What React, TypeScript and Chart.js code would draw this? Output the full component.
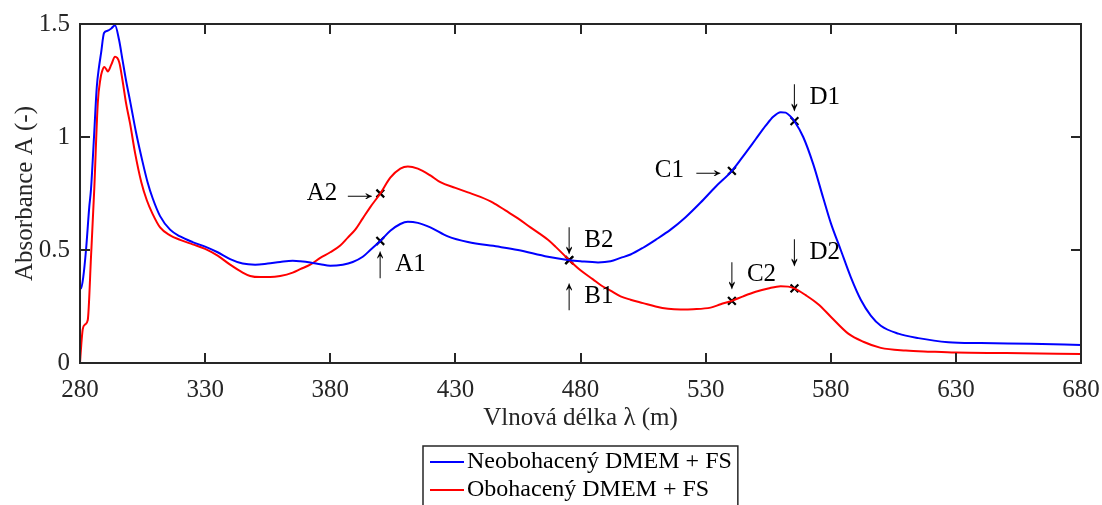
import React, { useEffect, useRef } from "react";
import { Chart, registerables } from "chart.js";

Chart.register(...registerables);

// ---------- data ----------
const seriesLabels = ["Neobohacený DMEM + FS", "Obohacený DMEM + FS"];

const blueWavelengths = [
  280, 280.4, 281.3, 282.4, 283.7, 284.4, 285.5, 286.7, 287.6, 288.4, 289.6, 291, 292.5, 294, 295.6, 297,
  298.4, 300, 302.4, 305, 307, 309, 312, 316, 320, 325, 330, 335, 340, 345, 350, 355, 360, 365, 368, 372,
  376, 380, 385, 389, 393, 396, 400, 404, 408, 411, 415, 420, 427, 435, 447, 455, 467, 475.5, 480, 487,
  492, 496, 500, 505, 510, 516, 522, 528, 534, 540.5, 546, 550, 554, 557, 560, 562, 564, 565.5, 569, 573,
  577, 580, 584, 588, 592, 596, 600, 607, 615, 627, 640, 660, 680,
];
const blueAbsorbance = [
  0.33, 0.33, 0.38, 0.5, 0.69, 0.77, 0.98, 1.22, 1.31, 1.37, 1.46, 1.47, 1.48, 1.495, 1.43, 1.34,
  1.25, 1.16, 1.02, 0.89, 0.8, 0.73, 0.65, 0.59, 0.56, 0.535, 0.515, 0.49, 0.46, 0.44, 0.435, 0.44, 0.447, 0.452, 0.45, 0.445,
  0.437, 0.43, 0.435, 0.447, 0.47, 0.5, 0.54, 0.585, 0.615, 0.625, 0.62, 0.6, 0.56, 0.535, 0.515, 0.5, 0.47, 0.455, 0.45, 0.445,
  0.45, 0.465, 0.48, 0.51, 0.545, 0.59, 0.645, 0.71, 0.78, 0.85, 0.93, 0.99, 1.05, 1.09, 1.11, 1.108, 1.09, 1.07, 1.0, 0.88,
  0.73, 0.62, 0.5, 0.38, 0.28, 0.21, 0.165, 0.13, 0.11, 0.092, 0.088, 0.085, 0.08,
];

const redWavelengths = [
  280, 280.5, 281.1, 282, 283.1, 284.4, 285.7, 287.1, 288.2, 288.8, 289.7, 290.5, 291.1, 292.5, 294, 295.7,
  297, 298.4, 300, 302, 304.5, 306.7, 309, 312, 316, 320, 325, 330, 335, 340, 345, 348, 352, 356, 360, 365,
  368, 372, 376, 380, 384, 387, 390, 393, 396, 400, 404, 408, 411, 415, 420, 424, 430, 435, 440, 445, 450,
  455, 460, 467, 470, 475.5, 480, 485, 488, 492, 496, 500, 505, 510, 515, 520, 525, 532, 536, 540.5, 545,
  550, 555, 560, 563, 565.5, 570, 575, 580, 587, 593, 600, 610, 620, 630, 650, 680,
];
const redAbsorbance = [
  0.0, 0.08, 0.15, 0.17, 0.19, 0.47, 0.77, 1.15, 1.26, 1.29, 1.31, 1.3, 1.29, 1.32, 1.355, 1.33,
  1.25, 1.15, 1.06, 0.93, 0.8, 0.72, 0.66, 0.6, 0.565, 0.545, 0.525, 0.505, 0.475, 0.435, 0.4, 0.385, 0.38, 0.38, 0.385, 0.4,
  0.415, 0.435, 0.465, 0.49, 0.52, 0.555, 0.59, 0.64, 0.69, 0.75, 0.82, 0.86, 0.87, 0.86, 0.83, 0.8, 0.775, 0.755, 0.735, 0.71, 0.675,
  0.64, 0.6, 0.545, 0.515, 0.455, 0.41, 0.37, 0.345, 0.32, 0.295, 0.28, 0.265, 0.25, 0.24, 0.237, 0.238, 0.245, 0.26, 0.275, 0.295,
  0.315, 0.33, 0.34, 0.338, 0.33, 0.3, 0.26, 0.205, 0.13, 0.094, 0.067, 0.055, 0.05, 0.046, 0.044, 0.04,
];

const markerLabels = ["A1", "A2", "B1", "B2", "C1", "C2", "D1", "D2"];
const markerX = [400, 400, 475.5, 475.5, 540.5, 540.5, 565.5, 565.5];
const markerY = [0.54, 0.75, 0.455, 0.455, 0.85, 0.275, 1.07, 0.33];

const xTicks = [280, 330, 380, 430, 480, 530, 580, 630, 680];
const yTicks = [0, 0.5, 1, 1.5];
const xTitle = "Vlnová délka λ (m)";
const yTitle = "Absorbance A (-)";

// ---------- styles ----------
const FONT = '"Liberation Serif", "Times New Roman", serif';
const AXIS_COLOR = "#262626";
const seriesColors = ["#0000ff", "#ff0000"];

// label placement: arrow direction and offsets (px) relative to the marker
// right side: arrow centred on the marker, label starts at dx
// left side: arrow ends at dx, label ends at textDx
const labelPlacement: Record<string, { arrow: string; dy: number; side: "right" | "left"; dx: number; textDx?: number }> = {
  A1: { arrow: "↑", dy: 23, side: "right", dx: 15 },
  A2: { arrow: "→", dy: 0, side: "left", dx: 0, textDx: -43 },
  B1: { arrow: "↑", dy: 36, side: "right", dx: 15 },
  B2: { arrow: "↓", dy: -20, side: "right", dx: 15 },
  C1: { arrow: "→", dy: 0, side: "left", dx: -3, textDx: -48 },
  C2: { arrow: "↓", dy: -26, side: "right", dx: 15 },
  D1: { arrow: "↓", dy: -24, side: "right", dx: 15 },
  D2: { arrow: "↓", dy: -36, side: "right", dx: 15 },
};

const framePlugin = {
  id: "frame",
  afterDatasetsDraw(chart: any) {
    const { ctx, chartArea: a, scales } = chart;
    const tl = 10;
    ctx.save();
    ctx.strokeStyle = AXIS_COLOR;
    ctx.lineWidth = 2;
    ctx.beginPath();
    for (const v of xTicks) {
      const px = Math.round(scales.x.getPixelForValue(v));
      ctx.moveTo(px, a.bottom);
      ctx.lineTo(px, a.bottom - tl);
      ctx.moveTo(px, a.top);
      ctx.lineTo(px, a.top + tl);
    }
    for (const v of yTicks) {
      const py = Math.round(scales.y.getPixelForValue(v));
      ctx.moveTo(a.left, py);
      ctx.lineTo(a.left + tl, py);
      ctx.moveTo(a.right, py);
      ctx.lineTo(a.right - tl, py);
    }
    ctx.stroke();
    ctx.strokeRect(a.left, a.top, a.right - a.left, a.bottom - a.top);
    ctx.restore();
  },
};

function drawArrow(ctx: CanvasRenderingContext2D, arrow: string, x: number, y: number, align: "center" | "right") {
  // long thin arrow glyph: stretched text along its direction
  ctx.save();
  ctx.textBaseline = "middle";
  ctx.font = `24px ${FONT}`;
  const vertical = arrow === "↑" || arrow === "↓";
  ctx.translate(x, y);
  if (vertical) ctx.scale(1, 1.9);
  else ctx.scale(1.7, 1);
  ctx.textAlign = align;
  ctx.fillText(arrow, 0, 0);
  ctx.restore();
}

const annotationPlugin = {
  id: "annot",
  afterDatasetsDraw(chart: any) {
    const { ctx, scales } = chart;
    ctx.save();
    ctx.fillStyle = "#000";
    ctx.font = `25px ${FONT}`;
    ctx.textBaseline = "middle";
    markerLabels.forEach((lab, i) => {
      const p = labelPlacement[lab];
      const px = scales.x.getPixelForValue(markerX[i]);
      const py = scales.y.getPixelForValue(markerY[i]);
      const y = py + p.dy;
      if (p.side === "right") {
        drawArrow(ctx, p.arrow, px, y + 1, "center");
        ctx.textAlign = "left";
        ctx.fillText(lab, px + p.dx, y);
      } else {
        drawArrow(ctx, p.arrow, px + p.dx, y, "right");
        ctx.textAlign = "right";
        ctx.fillText(lab, px + (p.textDx ?? -40), y);
      }
    });
    ctx.restore();
  },
};

const legendPlugin = {
  id: "boxLegend",
  afterDraw(chart: any) {
    const { ctx, chartArea: a } = chart;
    ctx.save();
    ctx.font = `24px ${FONT}`;
    const textW = Math.max(...seriesLabels.map((s) => ctx.measureText(s).width));
    const lineLen = 34;
    const boxW = 7 + lineLen + 3 + textW + 6;
    const cx = (a.left + a.right) / 2;
    const left = Math.round(cx - boxW / 2);
    const top = a.bottom + 83;
    const rowH = 28;
    ctx.fillStyle = "#fff";
    ctx.fillRect(left, top, boxW, 80);
    ctx.strokeStyle = AXIS_COLOR;
    ctx.lineWidth = 1.5;
    ctx.strokeRect(left, top, boxW, 80);
    chart.data.datasets.slice(0, 2).forEach((ds: any, i: number) => {
      const y = top + 16 + i * rowH;
      ctx.strokeStyle = ds.borderColor;
      ctx.lineWidth = 2;
      ctx.beginPath();
      ctx.moveTo(left + 7, y);
      ctx.lineTo(left + 7 + lineLen, y);
      ctx.stroke();
      ctx.fillStyle = "#000";
      ctx.textAlign = "left";
      ctx.textBaseline = "middle";
      ctx.fillText(ds.label, left + 7 + lineLen + 3, y);
    });
    ctx.restore();
  },
};

export default function App() {
  const ref = useRef<HTMLCanvasElement | null>(null);

  useEffect(() => {
    if (!ref.current) return;
    const tickFont = { family: FONT, size: 25 };
    const chart = new Chart(ref.current, {
      type: "line",
      data: {
        datasets: [
          {
            label: seriesLabels[0],
            data: blueWavelengths.map((x, i) => ({ x, y: blueAbsorbance[i] })),
            borderColor: seriesColors[0],
            backgroundColor: seriesColors[0],
            borderWidth: 2,
            pointRadius: 0,
            cubicInterpolationMode: "monotone",
            fill: false,
          },
          {
            label: seriesLabels[1],
            data: redWavelengths.map((x, i) => ({ x, y: redAbsorbance[i] })),
            borderColor: seriesColors[1],
            backgroundColor: seriesColors[1],
            borderWidth: 2,
            pointRadius: 0,
            cubicInterpolationMode: "monotone",
            fill: false,
          },
          {
            label: "markers",
            data: markerX.map((x, i) => ({ x, y: markerY[i] })),
            showLine: false,
            pointStyle: "crossRot",
            pointRadius: 5.5,
            pointBorderWidth: 2.2,
            borderColor: "#000",
            backgroundColor: "#000",
          },
        ],
      },
      options: {
        responsive: false,
        animation: false,
        layout: { padding: { left: 0, right: 21, top: 24, bottom: 87 } },
        scales: {
          x: {
            type: "linear",
            min: 280,
            max: 680,
            afterBuildTicks: (s: any) => {
              s.ticks = xTicks.map((v) => ({ value: v }));
            },
            afterFit: (s: any) => {
              s.height = 70;
              s.paddingLeft = 0;
              s.paddingRight = 0;
            },
            grid: { display: false, drawTicks: false },
            border: { display: false },
            ticks: {
              font: tickFont,
              color: AXIS_COLOR,
              padding: 12,
              maxRotation: 0,
              autoSkip: false,
              callback: (v: any) => String(v),
            },
            title: { display: true, text: xTitle, font: tickFont, color: AXIS_COLOR, padding: 0 },
          },
          y: {
            type: "linear",
            min: 0,
            max: 1.5,
            afterBuildTicks: (s: any) => {
              s.ticks = yTicks.map((v) => ({ value: v }));
            },
            afterFit: (s: any) => {
              s.width = 80;
              s.paddingTop = 0;
              s.paddingBottom = 0;
            },
            grid: { display: false, drawTicks: false },
            border: { display: false },
            ticks: {
              font: tickFont,
              color: AXIS_COLOR,
              padding: 10,
              autoSkip: false,
              callback: (v: any) => String(v),
            },
            title: { display: true, text: yTitle, font: tickFont, color: AXIS_COLOR, padding: { top: 10, bottom: 0 } },
          },
        },
        plugins: {
          legend: { display: false },
          tooltip: { enabled: false },
        },
      },
      plugins: [framePlugin, annotationPlugin, legendPlugin],
    } as any);
    return () => chart.destroy();
  }, []);

  return (
    <div style={{ position: "fixed", left: 0, top: 0, width: 1102, height: 520, background: "#fff" }}>
      <canvas ref={ref} width={1102} height={520} style={{ display: "block" }} />
    </div>
  );
}
